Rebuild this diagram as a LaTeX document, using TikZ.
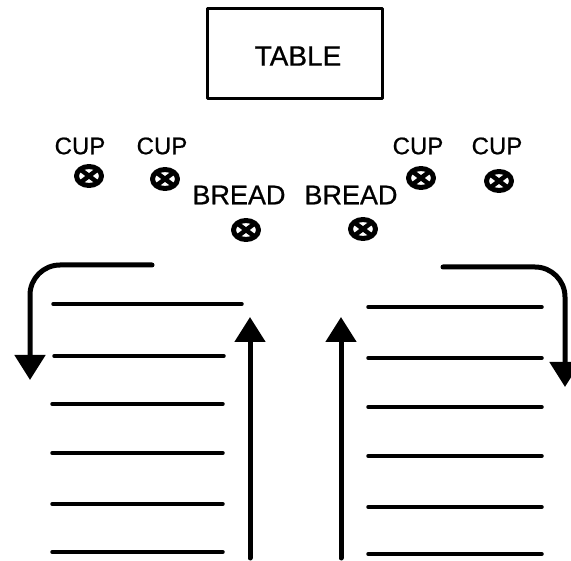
\documentclass[tikz,border=0pt]{standalone}
\usepackage{fontspec}
\setmainfont{Liberation Sans}
\newfontfamily\plainfont[FakeBold=0.7]{Liberation Sans}
\usepackage{tikz}
\usetikzlibrary{shapes.geometric}
\usetikzlibrary{arrows.meta}

\begin{document}
\begin{tikzpicture}
    [line cap=round,line join=round,x=1pt,y=-1pt,
     lbl/.style={inner sep=0pt,font=\plainfont\fontsize{24}{24}\selectfont},
     biglbl/.style={inner sep=0pt,font=\plainfont\fontsize{27}{27}\selectfont},
     placemark/.style={ellipse,draw,line width=5pt,minimum width=25pt,minimum height=19pt,inner sep=0pt,
        path picture={\draw[line width=4.5pt] (path picture bounding box.north west) -- (path picture bounding box.south east)
                      (path picture bounding box.south west) -- (path picture bounding box.north east);}},
     row/.style={line width=3.5pt},
     walk/.style={line width=5pt,-{Triangle[width=30pt,length=25pt]}}]
\useasboundingbox (0,0) rectangle (571,561);
%table
 \draw[line width=3pt] (207,9) rectangle (382,99);
 \node[inner sep=0pt,font=\plainfont\fontsize{28}{28}\selectfont] (table) at (298,56) {TABLE};
%cups and bread
 \node[lbl] (cuplA) at (80,146) {CUP};
 \node[lbl] (cuplB) at (162,146) {CUP};
 \node[lbl] (cuplC) at (418,146) {CUP};
 \node[lbl] (cuplD) at (497,146) {CUP};
 \node[biglbl] (breadlA) at (239,195) {BREAD};
 \node[biglbl] (breadlB) at (351,195) {BREAD};
 \node[placemark] (cupA) at (89,176) {};
 \node[placemark] (cupB) at (165,179) {};
 \node[placemark] (breadA) at (246,230) {};
 \node[placemark] (breadB) at (363,229) {};
 \node[placemark] (cupC) at (421,178) {};
 \node[placemark] (cupD) at (499,181) {};
%rows of seats
 \draw[row] (53,304) -- (242,304);
 \draw[row] (54,356) -- (224,356);
 \foreach \y in {404,453,504,552}
   \draw[row] (52,\y) -- (223,\y);
 \foreach \y in {307,358,407,456,507,554}
   \draw[row] (368,\y) -- (542,\y);
%walking directions
 \coordinate (upLs) at (250,558);
 \coordinate (upLe) at (250,317);
 \coordinate (upRs) at (341,558);
 \coordinate (upRe) at (341,317);
 \draw[walk] (upLs) -- (upLe);
 \draw[walk] (upRs) -- (upRe);
 \coordinate (outLs) at (152,265);
 \coordinate (outLc) at (30,265);
 \coordinate (outLe) at (30,380);
 \draw[walk,rounded corners=30pt] (outLs) -- (outLc) -- (outLe);
 \coordinate (outRs) at (443,267);
 \coordinate (outRc) at (565,267);
 \coordinate (outRe) at (565,387);
 \draw[walk,rounded corners=30pt] (outRs) -- (outRc) -- (outRe);
\end{tikzpicture}
\end{document}
